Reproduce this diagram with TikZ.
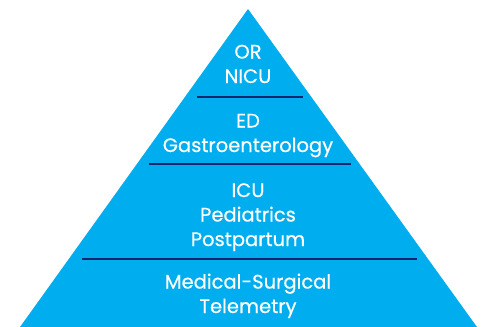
\documentclass[tikz,border=0pt]{standalone}
\usepackage{fontspec}
\setmainfont{Poppins}[FakeBold=0.5]
\usetikzlibrary{positioning}
\definecolor{pyrblue}{RGB}{0,174,239}
\definecolor{pyrnavy}{RGB}{22,38,110}
\tikzset{
	tier/.style={text=white,align=center,anchor=base,inner sep=0pt,
		font=\fontsize{19.5}{24.5}\selectfont},
	divider/.style={draw=pyrnavy,line width=1.4pt}
}
\begin{document}
\begin{tikzpicture}[x=1pt,y=-1pt]
		\useasboundingbox (0,0) rectangle (483,327);
		% the pyramid
		\coordinate (apex) at (248,9);
		\coordinate (bl) at (20,327);
		\coordinate (br) at (477,327);
		\fill [pyrblue] (apex) -- (bl) -- (br) -- cycle;
		% dividers
		\coordinate (d1l) at (197,97);
		\coordinate (d1r) at (303,97);
		\coordinate (d2l) at (149,164);
		\coordinate (d2r) at (351,164);
		\coordinate (d3l) at (82,259);
		\coordinate (d3r) at (417,259);
		\draw [divider] (d1l) -- (d1r);
		\draw [divider] (d2l) -- (d2r);
		\draw [divider] (d3l) -- (d3r);
		% tiers (anchored at the baseline of the last line)
		\node [tier] (t1) at (248,83) {OR\\NICU};
		\node [tier] (t2) at (248,152) {ED\\Gastroenterology};
		\node [tier] (t3) at (248,246) {ICU\\Pediatrics\\Postpartum};
		\node [tier] (t4) at (248,313) {Medical-Surgical\\Telemetry};
\end{tikzpicture}
\end{document}
